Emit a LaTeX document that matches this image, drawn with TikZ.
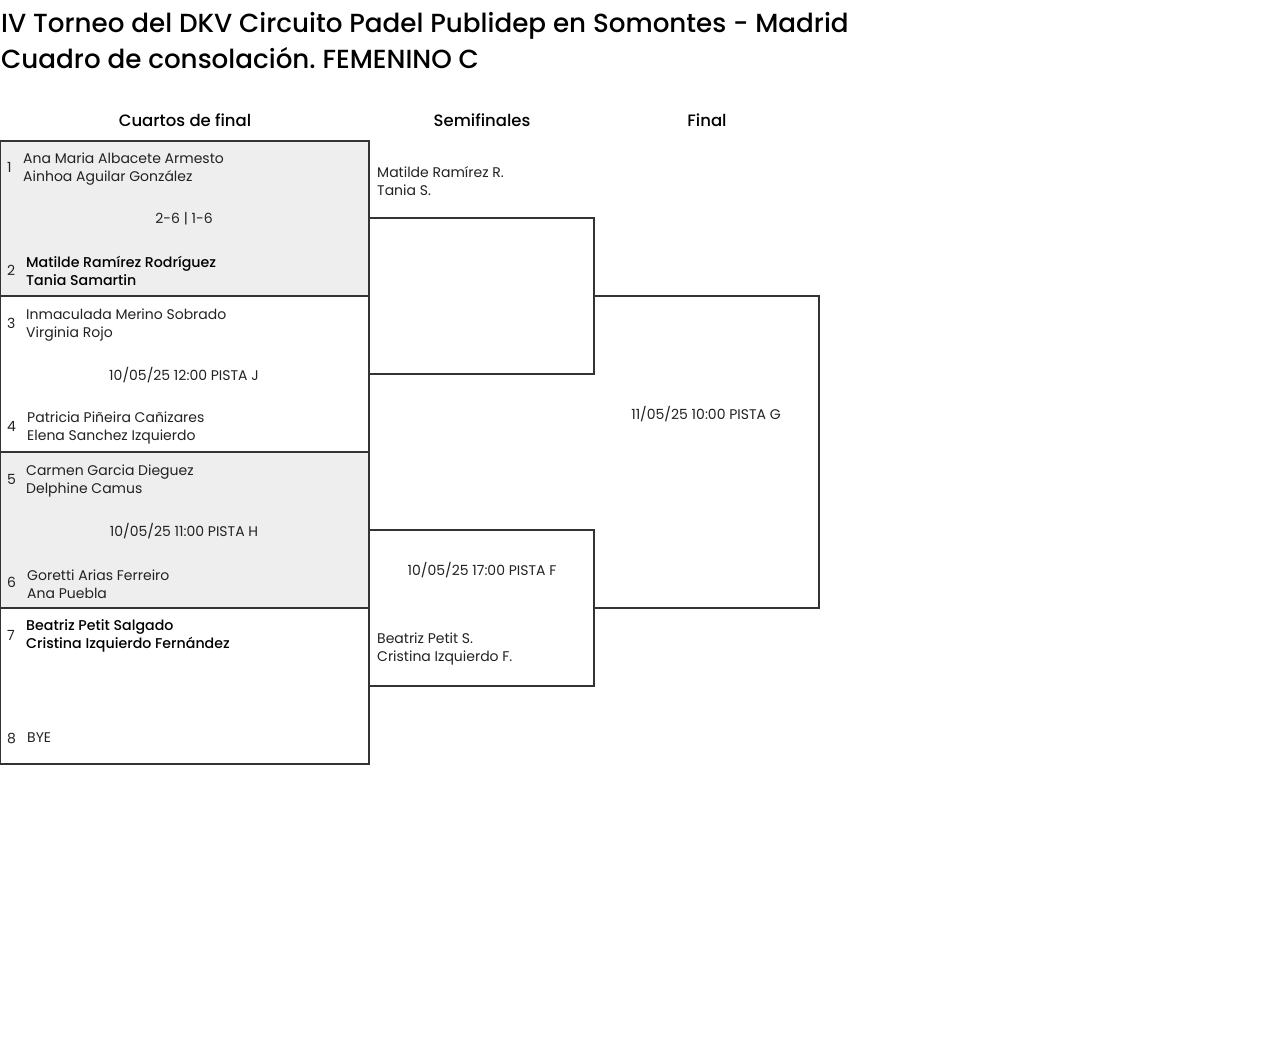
\documentclass[tikz,border=0pt]{standalone}
\usepackage{fontspec}
\setmainfont{Poppins}
\newfontfamily\pmed{Poppins Medium}
\frenchspacing
\definecolor{linec}{HTML}{333333}
\definecolor{grayfill}{HTML}{EEEEEE}
\definecolor{txt}{HTML}{222222}
\tikzset{
  qbox/.style={draw=linec, line width=1.1pt},
  names/.style={anchor=west, inner sep=0pt, align=left, text=txt, font=\fontsize{14}{18}\selectfont},
  bnames/.style={names, font=\fontsize{14.2}{18}\selectfont\pmed, text=black},
  num/.style={anchor=west, inner sep=0pt, text=txt, font=\fontsize{14}{18}\selectfont},
  info/.style={anchor=center, inner sep=0pt, text=txt, font=\fontsize{14}{18}\selectfont},
  hdr/.style={anchor=center, inner sep=0pt, text=black, font=\fontsize{16.5}{20}\selectfont\pmed},
  ttl/.style={anchor=west, inner sep=0pt, text=black, font=\fontsize{26.2}{32}\selectfont\pmed}
}
\begin{document}
\begin{tikzpicture}[x=1pt,y=-1pt]
\useasboundingbox (0,0) rectangle (1280,1048);
% title
\node[ttl] (t1) at (1,26) {IV Torneo del DKV Circuito Padel Publidep en Somontes - Madrid};
\node[ttl] (t2) at (1,58) {Cuadro de consolación. FEMENINO C};
% headers
\node[hdr] (h1) at (185,120) {Cuartos de final};
\node[hdr] (h2) at (482,120) {Semifinales};
\node[hdr] (h3) at (707,120) {Final};
% QF boxes
\path[qbox, fill=grayfill] (0.6,141) rectangle (369,296);
\path[qbox] (0.6,296) rectangle (369,452);
\path[qbox, fill=grayfill] (0.6,452) rectangle (369,608);
\path[qbox] (0.6,608) rectangle (369,764);
% semis
\path[qbox] (369,218) rectangle (594,374);
\path[qbox] (369,530) rectangle (594,686);
% final (open on the left)
\draw[qbox] (594,296) -- (819,296) -- (819,608) -- (594,608);
% match 1
\node[num] (n1) at (7,167) {1};
\node[names] (p1) at (23,169) {Ana Maria Albacete Armesto\\Ainhoa Aguilar González};
\node[info] (s1) at (184,219) {2-6 | 1-6};
\node[num] (n2) at (7,270) {2};
\node[bnames] (p2) at (26,271) {Matilde Ramírez Rodríguez\\Tania Samartin};
% match 2
\node[num] (n3) at (7,323) {3};
\node[names] (p3) at (26,325) {Inmaculada Merino Sobrado\\Virginia Rojo};
\node[info] (s2) at (184,375) {10/05/25 12:00 PISTA J};
\node[num] (n4) at (7,426) {4};
\node[names] (p4) at (27,428) {Patricia Piñeira Cañizares\\Elena Sanchez Izquierdo};
% match 3
\node[num] (n5) at (7,479) {5};
\node[names] (p5) at (26,481) {Carmen Garcia Dieguez\\Delphine Camus};
\node[info] (s3) at (184,531) {10/05/25 11:00 PISTA H};
\node[num] (n6) at (7,582) {6};
\node[names] (p6) at (27,584) {Goretti Arias Ferreiro\\Ana Puebla};
% match 4
\node[num] (n7) at (7,635) {7};
\node[bnames] (p7) at (26,636) {Beatriz Petit Salgado\\Cristina Izquierdo Fernández};
\node[num] (n8) at (7,738) {8};
\node[names] (p8) at (27,738) {BYE};
% semis
\node[names] (sf1) at (377,181) {Matilde Ramírez R.\\Tania S.};
\node[info] (sf2) at (482,570) {10/05/25 17:00 PISTA F};
\node[names] (sf3) at (377,649) {Beatriz Petit S.\\Cristina Izquierdo F.};
% final
\node[info] (f1) at (706,414) {11/05/25 10:00 PISTA G};
\end{tikzpicture}
\end{document}
